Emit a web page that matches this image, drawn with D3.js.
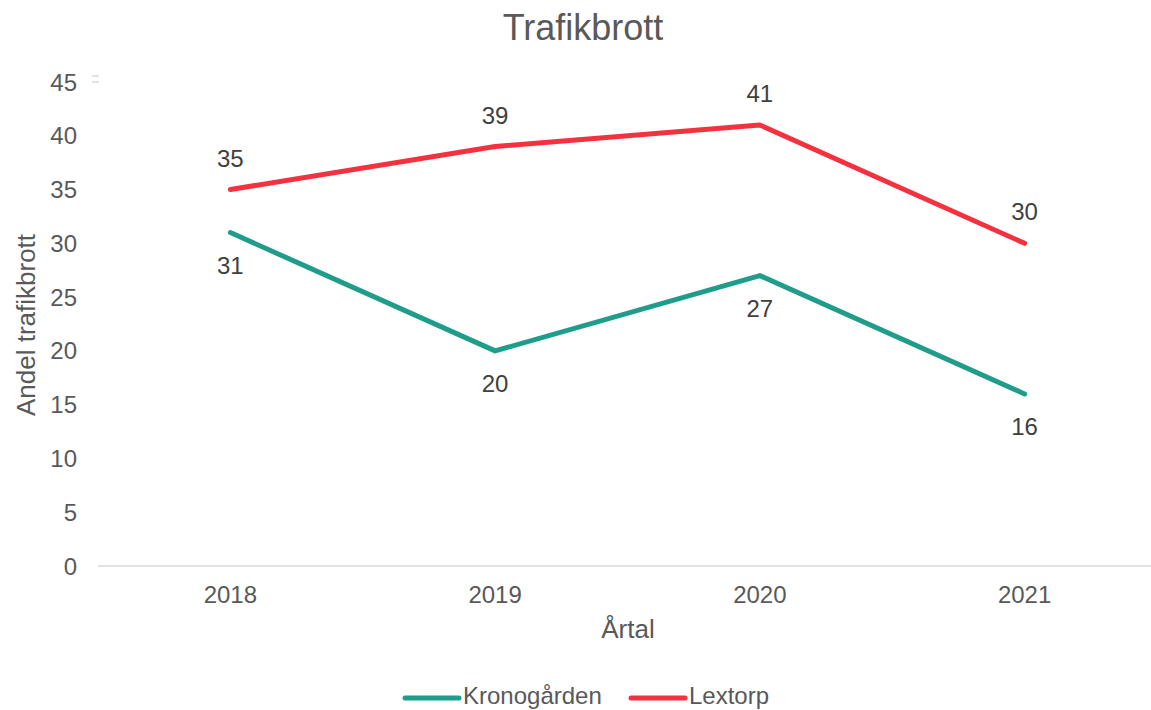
<!DOCTYPE html>
<html><head><meta charset="utf-8">
<script src="https://cdn.jsdelivr.net/npm/d3@7"></script>
<style>body{margin:0;background:#fff}svg{display:block;font-family:"Liberation Sans",Arial,sans-serif}</style>
</head><body>
<svg id="c" width="1151" height="710"></svg>
<script>
const years = ["2018","2019","2020","2021"];
const kronogarden = [31,20,27,16];
const lextorp = [35,39,41,30];
const yTicks = [0,5,10,15,20,25,30,35,40,45];
const seriesNames = ["Kronogården","Lextorp"];
const colors = ["#1f9d8a","#f4313f"];

const svg = d3.select("#c");
const x = d3.scaleBand().domain(years).range([98,1157]);
const y = d3.scaleLinear().domain([0,45]).range([566,82]);
const cx = d => x(d)+x.bandwidth()/2;

svg.append("text").attr("x",583).attr("y",40).attr("text-anchor","middle")
  .attr("font-size",36).attr("fill","#595959").text("Trafikbrott");

svg.append("line").attr("x1",98).attr("x2",1151).attr("y1",y(0)).attr("y2",y(0))
  .attr("stroke","#d9d9d9").attr("stroke-width",1.5);
[76,82].forEach(yy=>svg.append("line").attr("x1",92).attr("x2",99).attr("y1",yy).attr("y2",yy).attr("stroke","#d9d9d9").attr("stroke-width",1.5));

svg.selectAll(".yt").data(yTicks).join("text").attr("x",77).attr("y",d=>y(d)+8.5)
  .attr("text-anchor","end").attr("font-size",24).attr("fill","#595959").text(d=>d);
svg.selectAll(".xt").data(years).join("text").attr("x",d=>cx(d)).attr("y",603)
  .attr("text-anchor","middle").attr("font-size",24).attr("fill","#595959").text(d=>d);

svg.append("text").attr("transform","translate(35,325) rotate(-90)").attr("text-anchor","middle")
  .attr("font-size",26).attr("fill","#595959").text("Andel trafikbrott");
svg.append("text").attr("x",628).attr("y",638).attr("text-anchor","middle")
  .attr("font-size",26).attr("fill","#595959").text("Årtal");

const line = d3.line().x((d,i)=>cx(years[i])).y(d=>y(d));
[kronogarden,lextorp].forEach((s,k)=>{
  svg.append("path").datum(s).attr("d",line).attr("fill","none")
    .attr("stroke",colors[k]).attr("stroke-width",5).attr("stroke-linejoin","round").attr("stroke-linecap","round");
});
svg.selectAll(".lk").data(kronogarden).join("text").attr("x",(d,i)=>cx(years[i])).attr("y",d=>y(d)+41)
  .attr("text-anchor","middle").attr("font-size",24).attr("fill","#404040").text(d=>d);
svg.selectAll(".ll").data(lextorp).join("text").attr("x",(d,i)=>cx(years[i])).attr("y",d=>y(d)-23)
  .attr("text-anchor","middle").attr("font-size",24).attr("fill","#404040").text(d=>d);

const lx = [405,631];
seriesNames.forEach((n,k)=>{
  svg.append("line").attr("x1",lx[k]).attr("x2",lx[k]+54).attr("y1",698).attr("y2",698)
    .attr("stroke",colors[k]).attr("stroke-width",5).attr("stroke-linecap","round");
  svg.append("text").attr("x",lx[k]+58).attr("y",704).attr("font-size",24).attr("fill","#595959").text(n);
});
</script>
</body></html>
